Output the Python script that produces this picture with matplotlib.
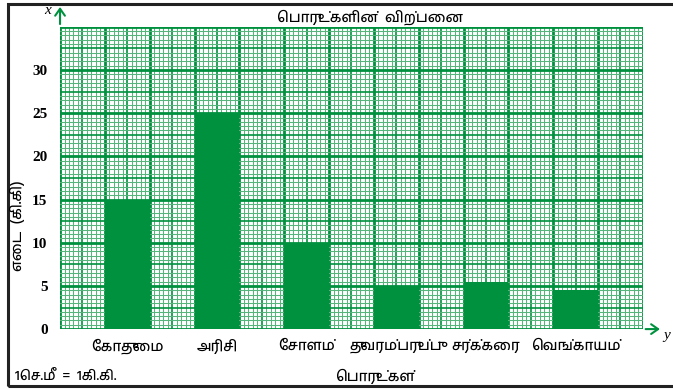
import matplotlib
matplotlib.use("Agg")
import numpy as np
import matplotlib.pyplot as plt
from matplotlib.patches import Rectangle

# sales of goods (kg)
items = ["கோதுமை", "அரிசி", "சோளம்", "துவரம்பருப்பு", "சர்க்கரை", "வெங்காயம்"]
weights = [15, 25, 10, 5, 5.5, 4.5]
y_ticks = [0, 5, 10, 15, 20, 25, 30]

title = "பொருட்களின்  விற்பனை"
x_label = "பொருட்கள்"
y_label = "எடை  (கி.கி)"
scale_note = "1செ.மீ  =  1கி.கி."

GREEN = "#00913f"
LIGHT = "#55b57a"
TAMIL = "Hind Madurai"
SERIF = "Liberation Serif"

PRE_BASE = {"\u0bc6", "\u0bc7", "\u0bc8"}
SPLIT = {"\u0bca": "\u0bc6\u0bbe", "\u0bcb": "\u0bc7\u0bbe", "\u0bcc": "\u0bc6\u0bd7"}


def visual(s):
    # matplotlib does no shaping, so put the pre-base vowel signs in front
    chars = []
    for c in s:
        chars.extend(SPLIT.get(c, c))
    out = []
    for c in chars:
        if c in PRE_BASE and out:
            out.insert(len(out) - 1, c)
        else:
            out.append(c)
    return "".join(out)


fig = plt.figure(figsize=(6.73, 3.89), dpi=100)
ax = fig.add_axes([0.0892, 0.154, 0.866, 0.777])

# graph paper: 13 big squares across, 0..35 up
ncols = 13
ymax = 35
ax.set_xlim(0, ncols)
ax.set_ylim(0, ymax)

for i in range(ncols * 10 + 1):
    x = i / 10
    if i % 10 == 0:
        ax.axvline(x, color=GREEN, lw=2.0, zorder=1)
    elif i % 5 == 0:
        ax.axvline(x, color=GREEN, lw=1.2, zorder=1)
    else:
        ax.axvline(x, color=LIGHT, lw=0.75, zorder=1)
for j in range(ymax * 2 + 1):
    y = j / 2
    if j % 10 == 0:
        ax.axhline(y, color=GREEN, lw=2.0, zorder=1)
    elif j % 5 == 0:
        ax.axhline(y, color=GREEN, lw=1.2, zorder=1)
    else:
        ax.axhline(y, color=LIGHT, lw=0.75, zorder=1)

pos = np.arange(len(items)) * 2 + 1.5
ax.bar(pos, weights, width=1.0, color=GREEN, zorder=3)

ax.set_xticks(pos)
ax.set_xticklabels([visual(s) for s in items], family=TAMIL, fontweight="medium", fontsize=10.5)
ax.set_yticks(y_ticks)
ax.set_yticklabels([str(v) for v in y_ticks], family=SERIF, fontweight="bold", fontsize=11)
ax.tick_params(axis="both", length=0)
ax.tick_params(axis="x", pad=7)
ax.tick_params(axis="y", pad=9)
for sp in ax.spines.values():
    sp.set_visible(False)

# axis arrows
ax.annotate("", xy=(0, 1.075), xytext=(0, 1.0), xycoords="axes fraction",
            arrowprops=dict(arrowstyle="->,head_length=0.5,head_width=0.35", color=GREEN, lw=1.5),
            annotation_clip=False)
ax.annotate("", xy=(1.034, 0), xytext=(1.0, 0), xycoords="axes fraction",
            arrowprops=dict(arrowstyle="->,head_length=0.5,head_width=0.35", color=GREEN, lw=1.5),
            annotation_clip=False)
fig.text(0.071, 0.972, "x", family=SERIF, style="italic", fontsize=11, ha="center", va="center")
fig.text(0.991, 0.138, "y", family=SERIF, style="italic", fontsize=11, ha="center", va="center")

fig.text(0.55, 0.957, visual(title), family=TAMIL, fontweight="medium", fontsize=10.5,
         ha="center", va="center")
fig.text(0.557, 0.033, visual(x_label), family=TAMIL, fontweight="medium", fontsize=10.5,
         ha="center", va="center")
fig.text(0.026, 0.42, visual(y_label), family=TAMIL, fontweight="medium", fontsize=10.5,
         ha="center", va="center", rotation=90)
fig.text(0.022, 0.033, visual(scale_note), family=TAMIL, fontweight="medium", fontsize=10,
         ha="left", va="center")

# outer frame, open on the right
fig.patches.append(Rectangle((0.012, 0.008), 1.0, 0.982, transform=fig.transFigure,
                             fill=False, ec="#222222", lw=2.2))

fig.savefig("out.png")
